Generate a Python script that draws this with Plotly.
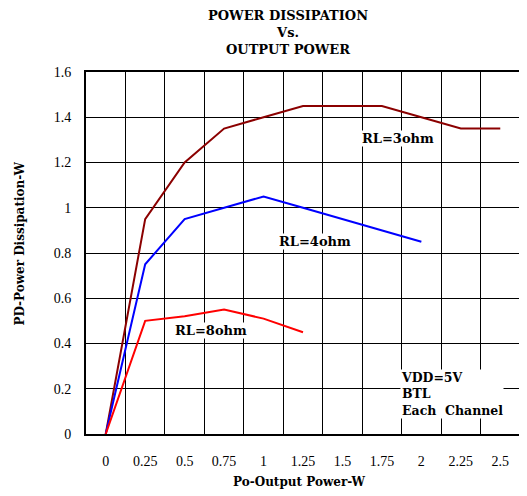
import plotly.graph_objects as go

# Data
po_3ohm = [0, 0.25, 0.5, 0.75, 1.0, 1.25, 1.5, 1.75, 2.0, 2.25, 2.5]
pd_3ohm = [0, 0.95, 1.2, 1.35, 1.4, 1.45, 1.45, 1.45, 1.4, 1.35, 1.35]

po_4ohm = [0, 0.25, 0.5, 0.75, 1.0, 1.25, 1.5, 1.75, 2.0]
pd_4ohm = [0, 0.75, 0.95, 1.0, 1.05, 1.0, 0.95, 0.9, 0.85]

po_8ohm = [0, 0.25, 0.5, 0.75, 1.0, 1.25]
pd_8ohm = [0, 0.5, 0.52, 0.55, 0.51, 0.45]

x_ticks = [0, 0.25, 0.5, 0.75, 1.0, 1.25, 1.5, 1.75, 2.0, 2.25, 2.5]
x_tick_labels = ["0", "0.25", "0.5", "0.75", "1", "1.25", "1.5", "1.75", "2", "2.25", "2.5"]

SERIF = "Liberation Serif, Times New Roman, serif"
BOLD = "DejaVu Serif, serif"

fig = go.Figure()
fig.add_trace(go.Scatter(x=po_3ohm, y=pd_3ohm, mode="lines", name="RL=3ohm",
                         line=dict(color="#8B0000", width=2)))
fig.add_trace(go.Scatter(x=po_4ohm, y=pd_4ohm, mode="lines", name="RL=4ohm",
                         line=dict(color="#0000FF", width=2)))
fig.add_trace(go.Scatter(x=po_8ohm, y=pd_8ohm, mode="lines", name="RL=8ohm",
                         line=dict(color="#FF0000", width=2)))

ann_font = dict(family=BOLD, size=13, color="black")
annotations = [
    dict(x=1.852, y=1.305, text="<b>RL=3ohm</b>", showarrow=False, bgcolor="white",
         font=ann_font, borderpad=0),
    dict(x=1.327, y=0.851, text="<b>RL=4ohm</b>", showarrow=False, bgcolor="white",
         font=ann_font, borderpad=0),
    dict(x=0.667, y=0.458, text="<b>RL=8ohm</b>", showarrow=False, bgcolor="white",
         font=ann_font, borderpad=0),
    dict(x=1.865, y=0.288, text="<b>VDD=5V<br>BTL<br>Each\u00a0 Channel</b>",
         showarrow=False, bgcolor="white", font=dict(family=BOLD, size=12.5, color="black"),
         align="left", xanchor="left", yanchor="top", borderpad=0),
    # chart title
    dict(xref="paper", yref="paper", x=0.465, y=1.110, xanchor="center", yanchor="middle",
         text="<b>POWER DISSIPATION<br>Vs.<br>OUTPUT POWER</b>", showarrow=False,
         font=dict(family=BOLD, size=13, color="black")),
    # axis titles
    dict(xref="paper", yref="paper", x=0.491, y=-0.132, xanchor="center", yanchor="middle",
         text="<b>Po-Output Power-W</b>", showarrow=False,
         font=dict(family=BOLD, size=12, color="black")),
    dict(xref="paper", yref="paper", x=-0.152, y=0.526, xanchor="center", yanchor="middle",
         text="<b>PD-Power Dissipation-W</b>", showarrow=False, textangle=-90,
         font=dict(family=BOLD, size=12, color="black")),
]

# The page body has an 8px margin, so the figure is sized/offset to compensate.
fig.update_layout(
    width=519, height=488,
    margin=dict(l=78, r=7, t=64, b=62),
    paper_bgcolor="white", plot_bgcolor="white",
    showlegend=False,
    annotations=annotations,
    font=dict(family=SERIF, color="black"),
)

fig.update_xaxes(
    range=[-0.125, 2.625], automargin=False,
    tickmode="array", tickvals=x_ticks, ticktext=x_tick_labels,
    showgrid=False, zeroline=False,
    minor=dict(tick0=-0.125, dtick=0.25, showgrid=True, gridcolor="black",
               gridwidth=1, ticks=""),
    showline=True, mirror=True, linecolor="black", linewidth=2,
    ticks="", ticklabelstandoff=13,
    tickfont=dict(family=SERIF, size=14, color="black"),
)
fig.update_yaxes(
    range=[0, 1.6], dtick=0.2, tick0=0, automargin=False,
    showgrid=True, gridcolor="black", gridwidth=1, zeroline=False,
    showline=True, mirror=True, linecolor="black", linewidth=2,
    ticks="", ticklabelstandoff=10,
    tickfont=dict(family=SERIF, size=14, color="black"),
)

fig.write_html("out.html")
